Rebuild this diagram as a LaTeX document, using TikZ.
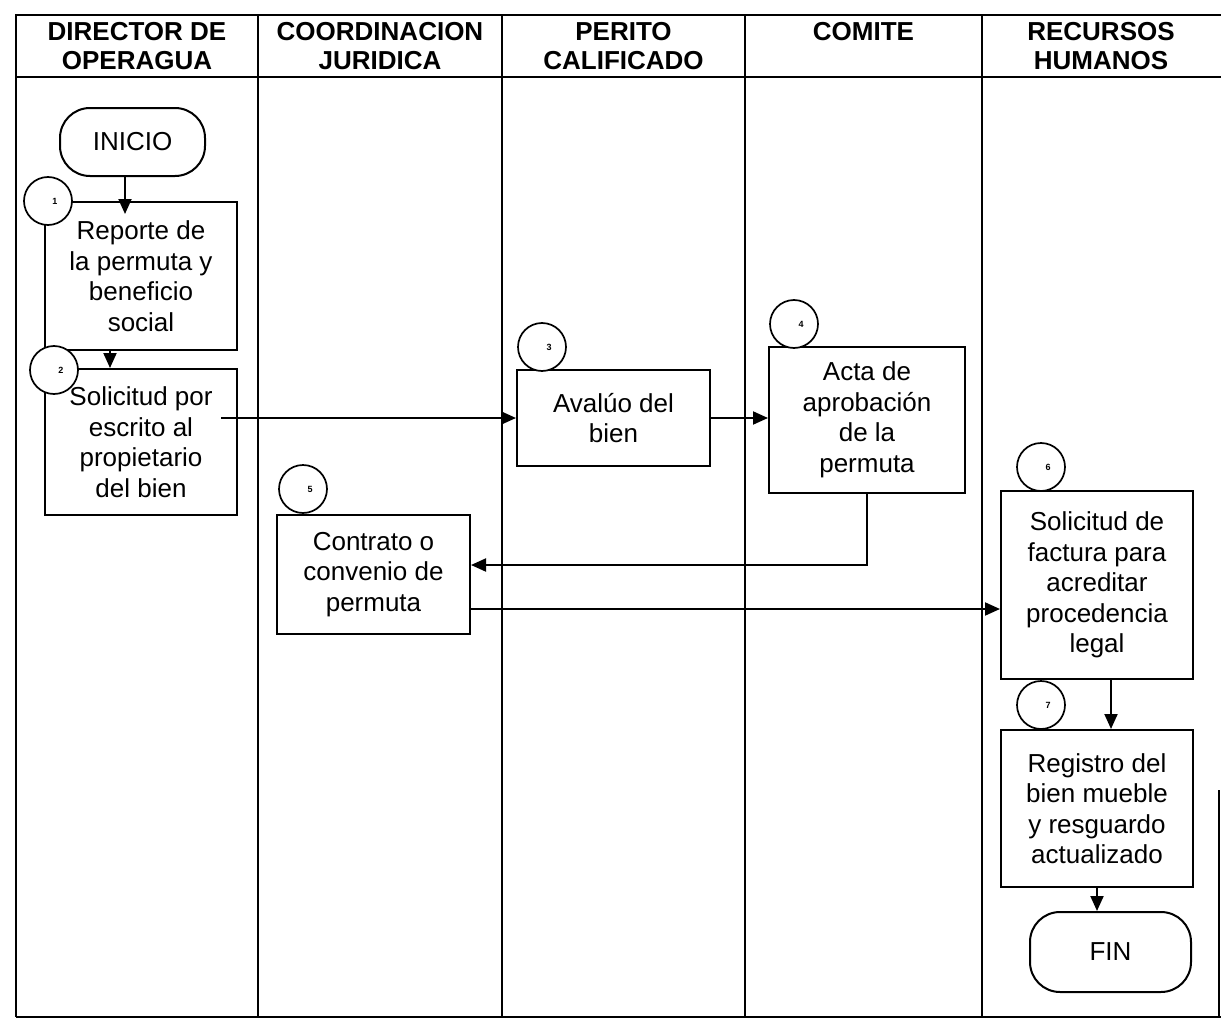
\documentclass[tikz,border=0pt]{standalone}
\usepackage{fontspec}
\setmainfont{Liberation Sans}
\usetikzlibrary{arrows.meta,positioning}

\def\Ancho{1221}
\def\Alto{1025}
\def\TextoCaja{\fontsize{26}{30.5}\selectfont}
\def\Grosor{2pt}

\tikzset{
  caja/.style={draw, line width=\Grosor, fill=white, align=center, font=\TextoCaja, inner sep=0pt},
  terminal/.style={draw, line width=\Grosor, rounded corners=30pt, font=\TextoCaja, inner sep=0pt},
  paso/.style={draw, circle, line width=1.7pt, fill=white, minimum size=48pt, inner sep=0pt,
    font=\bfseries\fontsize{9}{11}\selectfont},
  flecha/.style={line width=\Grosor, -{Triangle[length=15pt,width=13pt]}},
  linea/.style={line width=\Grosor},
  carril/.style={font=\bfseries\fontsize{26}{29}\selectfont, align=center, inner sep=0pt, anchor=north}
}

\begin{document}
\begin{tikzpicture}[x=1pt,y=-1pt]
  \useasboundingbox (0,0) rectangle (\Ancho,\Alto);
  % --- Marco y carriles ---
  \draw[linea] (16,1017) -- (16,15) -- (\Ancho,15);
  \draw[linea] (16,77) -- (\Ancho,77);
  \draw[linea] (16,1017) -- (\Ancho,1017);
  \foreach \x in {258,502,745,982}
  {
    \draw[linea] (\x,15) -- (\x,1017);
  }
  \draw[linea] (1219,790) -- (1219,1017);

  % --- Encabezados ---
  \foreach \i/\cx/\a/\b in {%
    1/137/DIRECTOR DE/OPERAGUA,
    2/380/COORDINACION/JURIDICA,
    3/623.5/PERITO/CALIFICADO,
    5/1101/RECURSOS/HUMANOS
  }{
    \node[carril] (h\i) at (\cx,22) {\a\\\b};
  }
  \node[carril] (h4) at (863.5,22) {COMITE};

  % --- Inicio y fin ---
  \node[terminal, minimum width=145pt, minimum height=68pt] (inicio) at (132.5,142) {INICIO};
  \node[terminal, minimum width=161pt, minimum height=80pt] (fin) at (1110.5,952) {FIN};

  % --- Actividades ---
  \node[caja, minimum width=192pt, minimum height=148pt] (b1) at (141,276)
    {Reporte de\\la permuta y\\beneficio\\social};
  \node[caja, minimum width=192pt, minimum height=146pt] (b2) at (141,442)
    {Solicitud por\\escrito al\\propietario\\del bien};
  \node[caja, minimum width=193pt, minimum height=96pt] (b3) at (613.5,418)
    {Aval\'uo del\\bien};
  \node[caja, minimum width=196pt, minimum height=146pt] (b4) at (867,420)
    {Acta de\\aprobaci\'on\\de la\\permuta};
  \node[caja, minimum width=193pt, minimum height=119pt] (b5) at (373.5,574.5)
    {Contrato o\\convenio de\\permuta};
  \node[caja, minimum width=192pt, minimum height=188pt] (b6) at (1097,585)
    {Solicitud de\\factura para\\acreditar\\procedencia\\legal};
  \node[caja, minimum width=192pt, minimum height=157pt] (b7) at (1097,808.5)
    {Registro del\\bien mueble\\y resguardo\\actualizado};

  % --- Numeros de paso ---
  \foreach \n/\cx/\cy in {1/48/201, 2/54/370, 3/542/347, 4/794/324, 5/303/489, 6/1041/467, 7/1041/705}
  {
    \node[paso] (c\n) at (\cx,\cy) {\hspace*{14pt}\n};
  }

  % --- Flechas ---
  \draw[flecha] ([xshift=-7.5pt]inicio.south) -- ([xshift=-7.5pt,yshift=-13pt]inicio.south |- b1.north);
  \draw[flecha] ([xshift=-31pt]b1.south) -- ([xshift=-31pt]b1.south |- b2.north);
  \draw[flecha] ([xshift=-17pt]b3.west -| b2.east) -- (b3.west);
  \draw[flecha] (b3.east) -- (b3.east -| b4.west);
  \draw[flecha] (b4.south) |- ([yshift=9.5pt]b5.east);
  \draw[flecha] ([yshift=-34.5pt]b5.east) -- ([yshift=-34.5pt]b5.east -| b6.west);
  \draw[flecha] ([xshift=14pt]b6.south) -- ([xshift=14pt]b6.south |- b7.north);
  \draw[flecha] (b7.south) -- (b7.south |- fin.north);
\end{tikzpicture}
\end{document}
